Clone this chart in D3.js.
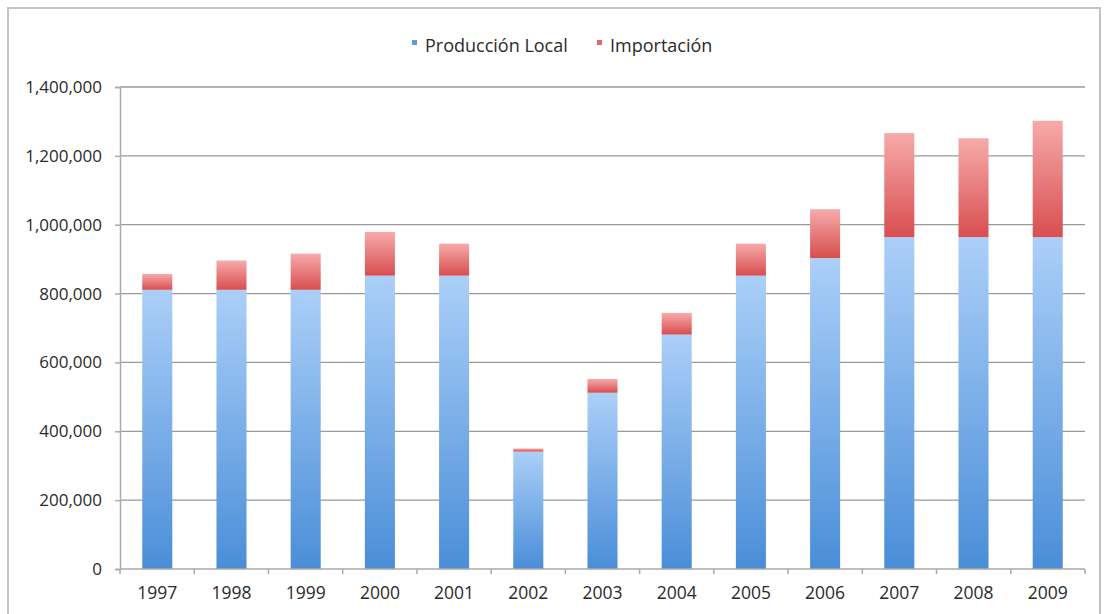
<!DOCTYPE html>
<html>
<head>
<meta charset="utf-8">
<title>Producción Local e Importación</title>
<script src="https://cdn.jsdelivr.net/npm/d3@7"></script>
<style>
  body { margin: 0; padding: 0; background: #fff; }
  text { font-family: "Open Sans", "DejaVu Sans", sans-serif; fill: #2a2a2a; }
</style>
</head>
<body>
<div id="chart"></div>
<script>

var years = ['1997','1998','1999','2000','2001','2002','2003','2004','2005','2006','2007','2008','2009']
var produccionLocal = [811000, 811000, 811000, 852000, 852000, 341000, 512000, 681000, 852000, 903000, 964000, 964000, 964000]
var importacion = [46000, 85000, 105000, 127000, 93000, 9000, 40000, 63000, 93000, 142000, 302000, 287000, 338000]
var seriesNames = ['Producción Local', 'Importación']
var yTicks = [0, 200000, 400000, 600000, 800000, 1000000, 1200000, 1400000]

var width = 1107, height = 614
var margin = {left: 120, right: 22, top: 87, bottom: 45}

var svg = d3.select('#chart').append('svg')
  .attr('width', width).attr('height', height)

// outer frame
svg.append('rect')
  .attr('x', 8).attr('y', 8)
  .attr('width', 1092).attr('height', 620)
  .style('fill', 'none')
  .style('stroke', '#c4c4c4')
  .style('stroke-width', 2)

var defs = svg.append('defs')
var gradBlue = defs.append('linearGradient').attr('id', 'gBlue')
  .attr('x1', 0).attr('y1', 0).attr('x2', 0).attr('y2', 1)
gradBlue.append('stop').attr('offset', '0%').attr('stop-color', '#abcff8')
gradBlue.append('stop').attr('offset', '100%').attr('stop-color', '#4a8ed8')
var gradRed = defs.append('linearGradient').attr('id', 'gRed')
  .attr('x1', 0).attr('y1', 0).attr('x2', 0).attr('y2', 1)
gradRed.append('stop').attr('offset', '0%').attr('stop-color', '#f7aaaa')
gradRed.append('stop').attr('offset', '100%').attr('stop-color', '#d84e4f')

var x = d3.scaleBand()
  .domain(years)
  .range([margin.left, width - margin.right])
  .paddingInner(0.595).paddingOuter(0.3)

var y = d3.scaleLinear()
  .domain([0, 1400000])
  .range([height - margin.bottom, margin.top])

// gridlines
svg.append('g').selectAll('line')
  .data(yTicks.filter(d => d > 0)).enter()
  .append('line')
  .attr('x1', margin.left).attr('x2', width - margin.right)
  .attr('y1', d => y(d)).attr('y2', d => y(d))
  .style('stroke', '#9a9a9a')
  .style('stroke-width', '1.3px')

// y axis
var yAxis = svg.append('g')
  .attr('transform', 'translate(' + margin.left + ',0)')
  .call(d3.axisLeft(y).tickValues(yTicks).tickSize(5).tickPadding(13).tickFormat(d3.format(',')))
yAxis.select('.domain').style('stroke', '#aaa').style('stroke-width', '1.5px')
yAxis.selectAll('.tick line').style('stroke', '#aaa').style('stroke-width', '1.5px')
yAxis.selectAll('text').style('font-size', '17px').style('fill', '#2a2a2a').style('font-family', '"Open Sans", sans-serif')

// bars
var rows = years.map((yr, i) => ({year: yr, local: produccionLocal[i], imp: importacion[i]}))
var stack = d3.stack().keys(['local', 'imp'])(rows)
var fills = ['url(#gBlue)', 'url(#gRed)']

svg.append('g').selectAll('g')
  .data(stack).enter()
  .append('g')
  .style('fill', (d, i) => fills[i])
  .selectAll('rect')
  .data(d => d).enter()
  .append('rect')
  .attr('x', d => x(d.data.year))
  .attr('width', x.bandwidth())
  .attr('y', d => y(d[1]))
  .attr('height', d => y(d[0]) - y(d[1]))

// x axis
var xAxis = svg.append('g')
  .attr('transform', 'translate(0,' + (height - margin.bottom) + ')')
xAxis.append('line')
  .attr('x1', margin.left).attr('x2', width - margin.right)
  .style('stroke', '#aaa').style('stroke-width', '1.5px')
xAxis.selectAll('.xtick')
  .data(d3.range(years.length + 1)).enter()
  .append('line')
  .attr('class', 'xtick')
  .attr('x1', i => margin.left + i * (width - margin.right - margin.left) / years.length)
  .attr('x2', i => margin.left + i * (width - margin.right - margin.left) / years.length)
  .attr('y1', 0).attr('y2', 5)
  .style('stroke', '#aaa').style('stroke-width', '1.5px')
xAxis.selectAll('.xlab')
  .data(years).enter()
  .append('text')
  .attr('x', d => x(d) + x.bandwidth() / 2)
  .attr('y', 30)
  .attr('text-anchor', 'middle')
  .style('font-size', '17.5px')
  .text(d => d)

// legend
var legendColors = ['#5f9be0', '#e2686a']
var legendX = [412, 597]
var legend = svg.append('g')
seriesNames.forEach((name, i) => {
  legend.append('rect')
    .attr('x', legendX[i]).attr('y', 40)
    .attr('width', 5).attr('height', 5)
    .style('fill', legendColors[i])
  legend.append('text')
    .attr('x', legendX[i] + 13).attr('y', 52)
    .style('font-size', '18px')
    .text(name)
})

</script>
</body>
</html>
